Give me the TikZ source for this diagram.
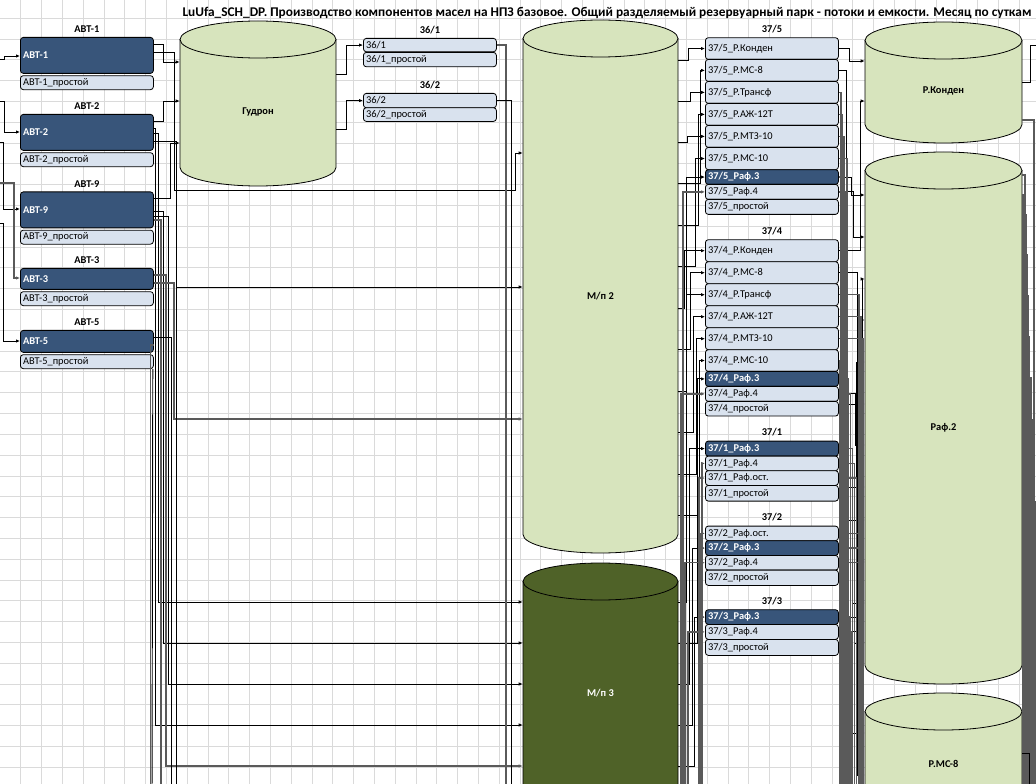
\documentclass[tikz,border=0pt]{standalone}
\usepackage{fontspec}
\setmainfont{Carlito}
\usetikzlibrary{arrows.meta, calc, positioning}

\definecolor{unitdark}{HTML}{38557A}
\definecolor{unitlight}{HTML}{D9E2EE}
\definecolor{tankgreen}{HTML}{D7E4BD}
\definecolor{tankolive}{HTML}{4F6228}
\definecolor{gridgray}{HTML}{DADADA}
\definecolor{wiregray}{HTML}{5A5A5A}

\tikzset{
  gridline/.style={draw=gridgray, line width=0.6pt},
  rowbox/.style={draw=black, line width=0.6pt, rounded corners=2.2pt, anchor=north west,
    text width=95.75pt, align=left, inner xsep=2pt, inner ysep=0pt,
    font=\fontsize{7.8}{8}\selectfont},
  darkrow/.style={rowbox, fill=unitdark, text=white, font=\bfseries\fontsize{7.8}{8}\selectfont},
  lightrow/.style={rowbox, fill=unitlight},
  unittitle/.style={font=\bfseries\fontsize{7.8}{8}\selectfont, inner sep=1pt},
  tanklabel/.style={font=\bfseries\fontsize{7.8}{8}\selectfont, inner sep=0pt},
  tankline/.style={draw=black, line width=0.6pt},
  headline/.style={font=\bfseries\fontsize{10}{12}\selectfont, inner sep=0pt},
  wire/.style={draw=black, line width=0.7pt},
  graywire/.style={draw=wiregray, line width=1.1pt},
  feed/.style={-{Latex[length=3pt, width=2.6pt]}},
}

% tank: name, x left, x right, y top, y bottom, fill, label y, label
\newcommand\tank[8]{%
  \pgfmathsetmacro\tkrx{(#3-#2)*0.375}%
  \filldraw[tankline, fill=#6] (#2,#4+18.5) -- (#2,#5-18.5)
    arc[start angle=180, end angle=360, x radius=\tkrx pt, y radius=13.875pt] -- (#3,#4+18.5) -- cycle;
  \filldraw[tankline, fill=#6] ({(#2+#3)/2},#4+18.5) ellipse[x radius=\tkrx pt, y radius=13.875pt];
  \node[tanklabel, minimum width=\tkrx*2pt] (#1) at ({(#2+#3)/2},#7) {#8};
}

\begin{document}
\begin{tikzpicture}[x=0.75pt, y=-0.75pt]
  \useasboundingbox (0,0) rectangle (1036,784);
  \clip (0,0) rectangle (1036,784);
  \coordinate (floor) at (0,800);
  \coordinate (edge) at (1045,0);

  % sheet grid
  \foreach \gx in {1,...,49} \draw[gridline] (\gx*20.8,0) -- (\gx*20.8,784);
  \foreach \gy in {0,...,36} \draw[gridline] (0,18.3+\gy*20.8) -- (1036,18.3+\gy*20.8);

  \node[headline] (head) at (607,13) {LuUfa\_SCH\_DP. Производство компонентов масел на НПЗ базовое. Общий разделяемый резервуарный парк - потоки и емкости. Месяц по суткам};

  % tanks
  \tank{gudron}{180}{336}{21}{186}{tankgreen}{112}{Гудрон}
  \tank{mp2}{523}{678}{20}{553}{tankgreen}{296}{М/п 2}
  \tank{mp3}{523}{678}{563}{900}{tankolive}{693}{\textcolor{white}{М/п 3}}
  \tank{rkond}{865}{1022}{22}{143}{tankgreen}{91}{Р.Конден}
  \tank{raf2}{865}{1022}{152}{684}{tankgreen}{428}{Раф.2}
  \tank{rms8}{865}{1022}{693}{950}{tankgreen}{764}{Р.МС-8}

  % AVT units
  \foreach \nm/\lab/\ytop/\rowh in {avt1/АВТ-1/37/36, avt2/АВТ-2/114/36, avt9/АВТ-9/191.5/36, avt3/АВТ-3/268/21, avt5/АВТ-5/330/22} {
    \node[darkrow, minimum height=\rowh*0.75pt] (\nm) at (20,\ytop) {\lab};
    \node[lightrow, minimum height=10.5pt, below=1.1pt of \nm.south west, anchor=north west] (\nm-p) {\lab\_простой};
    \node[unittitle, above=2pt of \nm] (\nm-t) {\lab};
  }

  % 36/x units
  \node[lightrow, minimum height=10pt] (u361) at (363,38) {36/1};
  \node[lightrow, minimum height=10.8pt] (u361p) at (363,52) {36/1\_простой};
  \node[unittitle, above=2pt of u361] (u361t) {36/1};
  \node[lightrow, minimum height=10.8pt] (u362) at (363,93) {36/2};
  \node[lightrow, minimum height=10.3pt] (u362p) at (363,107.3) {36/2\_простой};
  \node[unittitle, above=2pt of u362] (u362t) {36/2};

  % 37/x units
  \node[unittitle] (t375) at (772,29) {37/5};
  \foreach \lab/\ytop/\rowh/\kind [count=\i] in {Р.Конден/37.3/21.7/lightrow, Р.МС-8/59/22/lightrow, Р.Трансф/81/22/lightrow, Р.АЖ-12Т/103/22/lightrow, Р.МТЗ-10/125/22/lightrow, Р.МС-10/147/22.3/lightrow, Раф.3/169.3/14.7/darkrow, Раф.4/184/15/lightrow, простой/199/15/lightrow}
    \node[\kind, minimum height=\rowh*0.75pt] (u375r\i) at (705,\ytop) {37/5\_\lab};
  \node[unittitle] (t374) at (772,231) {37/4};
  \foreach \lab/\ytop/\rowh/\kind [count=\i] in {Р.Конден/239.3/22/lightrow, Р.МС-8/261.3/22/lightrow, Р.Трансф/283.3/22/lightrow, Р.АЖ-12Т/305.3/22/lightrow, Р.МТЗ-10/327.3/22/lightrow, Р.МС-10/349.3/21.7/lightrow, Раф.3/371/15/darkrow, Раф.4/386/15/lightrow, простой/401/14.7/lightrow}
    \node[\kind, minimum height=\rowh*0.75pt] (u374r\i) at (705,\ytop) {37/4\_\lab};
  \node[unittitle] (t371) at (772,432) {37/1};
  \foreach \lab/\ytop/\rowh/\kind [count=\i] in {Раф.3/440.7/15/darkrow, Раф.4/455.7/14.6/lightrow, Раф.ост./470.3/14.7/lightrow, простой/485/15.7/lightrow}
    \node[\kind, minimum height=\rowh*0.75pt] (u371r\i) at (705,\ytop) {37/1\_\lab};
  \node[unittitle] (t372) at (772,517) {37/2};
  \foreach \lab/\ytop/\rowh/\kind [count=\i] in {Раф.ост./525.7/14.6/lightrow, Раф.3/540.3/14.7/darkrow, Раф.4/555/14.7/lightrow, простой/569.7/15.3/lightrow}
    \node[\kind, minimum height=\rowh*0.75pt] (u372r\i) at (705,\ytop) {37/2\_\lab};
  \node[unittitle] (t373) at (772,601) {37/3};
  \foreach \lab/\ytop/\rowh/\kind [count=\i] in {Раф.3/609.3/14.7/darkrow, Раф.4/624/15/lightrow, простой/639/16/lightrow}
    \node[\kind, minimum height=\rowh*0.75pt] (u373r\i) at (705,\ytop) {37/3\_\lab};

  % feeds into AVT from the left
  \draw[wire, feed] (0,59) -- (4,59) |- (avt1.west |- 0,56);
  \draw[wire, feed] (0,101.7) -- (4,101.7) |- (avt2.west |- 0,132);
  \draw[wire, feed] (0,142) -- (3,142) |- (avt9.west |- 0,209);
  \draw[graywire, feed] (0,183) -- (14,183) |- (avt3.west |- 0,278);
  \draw[wire, feed] (0,223) -- (3,223) |- (avt5.west |- 0,341);

  % AVT -> tanks
  \draw[wire, feed] (avt1.east |- 0,44) -- (163,44) |- (gudron.west |- 0,62);
  \draw[wire, feed] (avt1.east |- 0,52) -- (174,52) -- (174,190) -- (515,190) |- (mp2.west |- 0,153);
  \draw[wire, feed] (avt2.east |- 0,121) -- (163,121) |- (gudron.west |- 0,101);
  \draw[wire, feed] (avt9.east |- 0,198) -- (170,198) |- (gudron.west |- 0,143);
  \draw[wire, feed] (avt2.east |- 0,128) -- (155.7,128) |- (mp3.west |- 0,725);
  \draw[wire, feed] (avt2.east |- 0,133) -- (158.3,133) |- (mp3.west |- 0,602);
  \draw[wire, feed] (avt9.east |- 0,211) -- (163.3,211) |- (mp3.west |- 0,643);
  \draw[wire, feed] (avt9.east |- 0,216) -- (168.7,216) |- (mp3.west |- 0,684);
  \draw[graywire, feed] (avt3.east |- 0,275) -- (166,275) |- (mp3.west |- 0,766);
  \draw[graywire, feed] (avt3.east |- 0,283) -- (174,283) |- (mp2.west |- 0,419);
  \draw[wire] (avt2.east |- 0,141) -- (176.7,141) -- (176.7,0 |- floor);
  \draw[wire, feed] (176.7,287) -- (mp2.west |- 0,287);
  \draw[graywire] (avt9.east |- 0,220) -- (161,220) -- (161,0 |- floor);
  \draw[wire] (avt5.east |- 0,337) -- (171.3,337) -- (171.3,0 |- floor);
  \draw[graywire] (avt5.east |- 0,345) -- (150.5,345) -- (150.5,0 |- floor);
  \draw[wire] (avt5-p.south east) ++(-1,0) -- (152,0 |- floor);

  % gudron -> 36/x -> down
  \draw[wire, feed] (gudron.east |- 0,74) -- (346,74) |- (u361.west);
  \draw[wire, feed] (gudron.east |- 0,129) -- (346,129) |- (u362.west);
  \draw[graywire] (u361.east) -- (506,0 |- u361.east) -- (506,0 |- floor);
  \draw[wire] (u362.east) -- (511,0 |- u362.east) -- (511,0 |- floor);

  % M/p 2, M/p 3 -> 37/x
  \foreach \sy/\vx/\dst in {60/688/u375r1, 101/690/u375r3, 142/687/u375r5, 183/700/u375r2, 225/698/u375r4, 266/695/u375r6, 308/684/u374r1, 349/690/u374r2, 391/686/u374r3, 432/693/u374r4, 474/696/u374r5, 515/699/u374r6}
    \draw[wire, feed] (mp2.east |- 0,\sy) -- (\vx,\sy) |- (\dst.west);
  \foreach \sy/\vx/\dst in {602/686/u375r7, 643/697/u374r7, 684/689/u371r1, 725/692/u372r2, 766/694/u373r1}
    \draw[wire, feed] (mp3.east |- 0,\sy) -- (\vx,\sy) |- (\dst.west);
  \foreach \vx/\dst in {683/u375r8, 681/u374r8, 702/u371r2, 699/u371r3, 701/u372r1, 685/u372r3, 688/u373r2}
    \draw[graywire, feed] (\vx,0 |- floor) |- (\dst.west);

  % 37/x -> product tanks
  \foreach \src/\vx/\dst/\ty in {u375r1/849/rkond/61, u374r1/860/rkond/101, u375r2/846/rms8/733, u374r2/857/rms8/775, u375r7/851/raf2/195, u375r8/853/raf2/237, u374r7/843/raf2/404, u374r8/855/raf2/445, u371r1/845/raf2/487, u371r2/848/raf2/520, u371r3/850/raf2/562, u372r1/852/raf2/603, u372r2/854/raf2/643, u372r3/862/raf2/279, u373r1/858/raf2/320, u373r2/856/raf2/362}
    \draw[wire, feed] (\src.east) -- (\vx,0 |- \src.east) |- (\dst.west |- 0,\ty);
  \foreach \src/\vx in {u375r3/841, u375r4/842, u375r5/844, u375r6/847, u374r3/859, u374r4/861, u374r5/863, u374r6/840, u375r7/843.5, u375r8/845.5, u374r7/848.5, u374r8/850.5, u371r1/852.5, u371r2/854.5, u371r3/856.5, u372r1/858.5, u372r2/860.5, u372r3/862.5, u373r1/849.5, u373r2/851.5}
    \draw[graywire] (\src.east) -- (\vx,0 |- \src.east) -- (\vx,0 |- floor);

  % product tanks -> right
  \draw[wire] (rkond.east |- 0,82) -- (1030,82) |- (edge |- 0,45);
  \draw[graywire] (rkond.east |- 0,120) -- (1034,120) -- (1034,0 |- floor);
  \foreach \sy/\vx in {175/1025, 215/1026, 255/1027, 296/1028, 337/1029, 378/1031, 420/1032, 461/1033, 502/1035, 543/1024, 585/1030, 626/1036, 195/1023, 235/1024.5, 276/1025.5, 316/1026.5, 357/1027.5, 398/1028.5, 440/1030.5, 481/1031.5, 522/1032.5, 564/1034.5, 605/1035.5, 646/1029.5}
    \draw[graywire] (raf2.east |- 0,\sy) -- (\vx,\sy) -- (\vx,0 |- floor);
  \draw[wire] (rms8.east |- 0,753) -- (1029.5,753) -- (1029.5,0 |- floor);
\end{tikzpicture}
\end{document}
